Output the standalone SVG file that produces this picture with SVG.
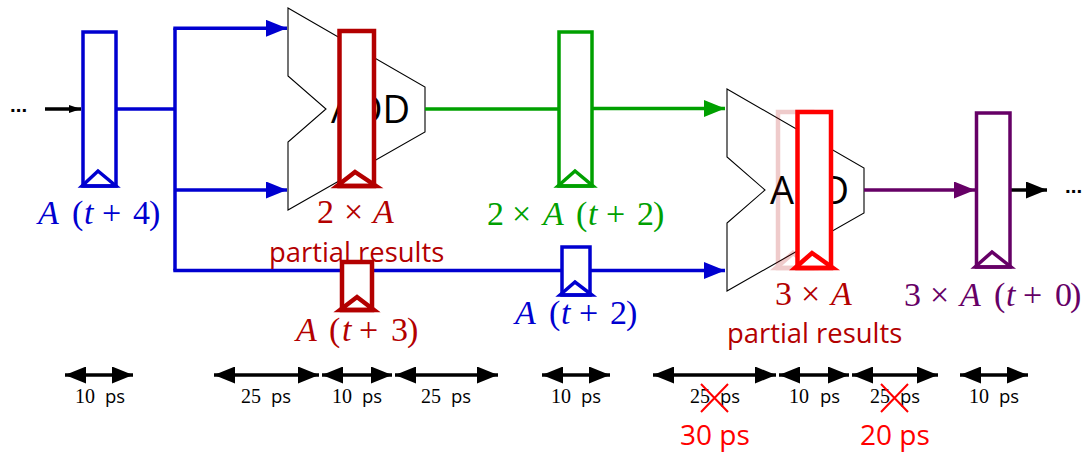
<svg xmlns="http://www.w3.org/2000/svg" width="1084" height="452" viewBox="0 0 1084 452">
<style>
text{font-family:"Liberation Serif","Times New Roman",serif;font-size:34px}
.i{font-style:italic}
.s{font-family:"Open Sans","Noto Sans",sans-serif}
.d{font-family:"Liberation Sans",Arial,sans-serif;font-size:20.500px;font-weight:700}
.t{font-size:20px;fill:#000}
.t .s{font-size:18.500px}
.add{fill:#fff;stroke:#000;stroke-width:1.1}
.blue{stroke:#0000d0;fill:none;stroke-width:3.500}
.green{stroke:#00a000;fill:none;stroke-width:3.500}
.purple{stroke:#660066;fill:none;stroke-width:3.500}
.dred{stroke:#b30000;fill:none;stroke-width:4.500}
.red{stroke:#ff0000;fill:none;stroke-width:4.500}
.k{stroke:#000;fill:none;stroke-width:3.500}
.x{stroke:#ff0000;fill:none;stroke-width:2}
.p{font-size:27.400px}
.q{font-size:28px}
.a{font-size:38px}
</style>
<defs>
<marker id="ab" markerUnits="userSpaceOnUse" markerWidth="22" markerHeight="18" refX="21" refY="8.500" orient="auto"><path d="M0 0L21 8.500L0 17z" fill="#0000d0"/></marker>
<marker id="ag" markerUnits="userSpaceOnUse" markerWidth="22" markerHeight="18" refX="21" refY="8.500" orient="auto"><path d="M0 0L21 8.500L0 17z" fill="#00a000"/></marker>
<marker id="ap" markerUnits="userSpaceOnUse" markerWidth="22" markerHeight="18" refX="21" refY="8.500" orient="auto"><path d="M0 0L21 8.500L0 17z" fill="#660066"/></marker>
<marker id="ak" markerUnits="userSpaceOnUse" markerWidth="22" markerHeight="18" refX="21" refY="8.500" orient="auto"><path d="M0 0L21 8.500L0 17z" fill="#000"/></marker>
<marker id="as" markerUnits="userSpaceOnUse" markerWidth="14" markerHeight="10" refX="12" refY="4" orient="auto"><path d="M0 0L12 4L0 8z" fill="#000"/></marker>
<marker id="te" markerUnits="userSpaceOnUse" markerWidth="22" markerHeight="18" refX="21" refY="8.500" orient="auto"><path d="M0 0L21 8.500L0 17z" fill="#000"/></marker>
<marker id="ts" markerUnits="userSpaceOnUse" markerWidth="22" markerHeight="18" refX="0" refY="8.500" orient="auto"><path d="M21 0L0 8.500L21 17z" fill="#000"/></marker>
</defs>

<g id="adder1"><path class="add" d="M288 8L425 87V132L288 210V142L326 109L288 76Z"/><text class="s a" x="331" y="123">ADD</text></g>
<g id="adder2"><path class="add" d="M727 89L864 168V213L727 291V223L765 190L727 157Z"/><text class="s a" x="770" y="204">ADD</text></g>

<g id="connectors">
<path class="k" d="M45 109H81" marker-end="url(#as)"/>
<path class="blue" d="M116 109H175"/>
<path class="blue" d="M175 28.300V270.500"/>
<path class="blue" d="M173.300 28.300H287" marker-end="url(#ab)"/>
<path class="blue" d="M175 190H287" marker-end="url(#ab)"/>
<path class="blue" d="M173.300 270.500H725" marker-end="url(#ab)"/>
<path class="green" d="M425 109H559"/>
<path class="green" d="M592 108.500H725" marker-end="url(#ag)"/>
<path class="purple" d="M864 190H975" marker-end="url(#ap)"/>
<path class="k" d="M1010 190H1047" marker-end="url(#ak)"/>
</g>

<g id="labels">
<text x="10" y="111.500" class="d">...</text>
<text x="1065" y="193" class="d">...</text>
<text fill="#0000d0"><tspan class="i" x="38" y="224">A</tspan><tspan x="72">(</tspan><tspan class="i" x="84">t</tspan><tspan x="102">+</tspan><tspan x="133">4</tspan><tspan x="149">)</tspan></text>
<text fill="#b30000"><tspan x="317" y="223">2</tspan><tspan x="344">×</tspan><tspan class="i" x="373">A</tspan></text>
<text class="s p" fill="#b30000" x="269" y="262">partial results</text>
<text fill="#00a000"><tspan x="487" y="225">2</tspan><tspan x="512">×</tspan><tspan class="i" x="543">A</tspan><tspan x="576">(</tspan><tspan class="i" x="588">t</tspan><tspan x="606">+</tspan><tspan x="637">2</tspan><tspan x="653">)</tspan></text>
<text fill="#b30000"><tspan class="i" x="296" y="341">A</tspan><tspan x="329">(</tspan><tspan class="i" x="342">t</tspan><tspan x="359">+</tspan><tspan x="391">3</tspan><tspan x="407">)</tspan></text>
<text fill="#0000d0"><tspan class="i" x="515" y="324">A</tspan><tspan x="549">(</tspan><tspan class="i" x="561">t</tspan><tspan x="579">+</tspan><tspan x="610">2</tspan><tspan x="626">)</tspan></text>
<text fill="#b30000"><tspan x="775" y="305">3</tspan><tspan x="801">×</tspan><tspan class="i" x="831">A</tspan></text>
<text class="s p" fill="#b30000" x="727" y="343">partial results</text>
<text fill="#660066"><tspan x="904" y="306">3</tspan><tspan x="930">×</tspan><tspan class="i" x="960">A</tspan><tspan x="994">(</tspan><tspan class="i" x="1006">t</tspan><tspan x="1023">+</tspan><tspan x="1055">0</tspan><tspan x="1070">)</tspan></text>
</g>

<g id="reg1"><rect class="blue" style="fill:#fff" x="83" y="32" width="33" height="154"/><path class="blue" d="M82 186L98 171L116 186Z"/></g>
<g id="reg2"><rect class="dred" style="fill:#fff" x="339.500" y="31" width="34.500" height="155"/><path class="dred" d="M337 186L355 172L376 186Z"/></g>
<g id="reg3"><rect class="green" style="fill:#fff" x="559" y="32" width="33" height="154"/><path class="green" d="M558 186L575 171L593 186Z"/></g>
<g id="reg4"><rect class="dred" style="fill:#fff" x="342" y="262" width="30" height="48"/><path class="dred" d="M340 310L357 297L374 310Z"/></g>
<g id="reg5"><rect class="blue" style="fill:#fff" x="562" y="247" width="28" height="48"/><path class="blue" d="M560 295L575 282L592 295Z"/></g>
<g id="reg6" opacity="0.2"><rect class="dred" x="778" y="112" width="34" height="156"/><path class="dred" d="M776 268L793 253L812 268Z"/></g>
<g id="reg7"><rect class="red" style="fill:#fff" x="797.500" y="112" width="33.500" height="156"/><path class="red" d="M795 268L812 253L833 268Z"/></g>
<g id="reg8"><rect class="purple" style="fill:#fff" x="976.500" y="113" width="33.500" height="154"/><path class="purple" d="M975 267L992 252L1011 267Z"/></g>

<g id="timing">
<path class="k" d="M65 375H133" marker-start="url(#ts)" marker-end="url(#te)"/>
<path class="k" d="M214 375H319" marker-start="url(#ts)" marker-end="url(#te)"/>
<path class="k" d="M322 375H392" marker-start="url(#ts)" marker-end="url(#te)"/>
<path class="k" d="M395 375H498" marker-start="url(#ts)" marker-end="url(#te)"/>
<path class="k" d="M542 375H610" marker-start="url(#ts)" marker-end="url(#te)"/>
<path class="k" d="M653 375H776" marker-start="url(#ts)" marker-end="url(#te)"/>
<path class="k" d="M779 375H849" marker-start="url(#ts)" marker-end="url(#te)"/>
<path class="k" d="M852 375H938" marker-start="url(#ts)" marker-end="url(#te)"/>
<path class="k" d="M960 375H1028" marker-start="url(#ts)" marker-end="url(#te)"/>
<text class="t"><tspan x="75" y="403">10</tspan><tspan class="s" x="105">ps</tspan></text>
<text class="t"><tspan x="241" y="403">25</tspan><tspan class="s" x="271">ps</tspan></text>
<text class="t"><tspan x="332" y="403">10</tspan><tspan class="s" x="362">ps</tspan></text>
<text class="t"><tspan x="421" y="403">25</tspan><tspan class="s" x="451">ps</tspan></text>
<text class="t"><tspan x="551" y="403">10</tspan><tspan class="s" x="581">ps</tspan></text>
<text class="t"><tspan x="690" y="403">25</tspan><tspan class="s" x="720">ps</tspan></text>
<text class="t"><tspan x="789" y="403">10</tspan><tspan class="s" x="820">ps</tspan></text>
<text class="t"><tspan x="870" y="403">25</tspan><tspan class="s" x="900">ps</tspan></text>
<text class="t"><tspan x="969" y="403">10</tspan><tspan class="s" x="999">ps</tspan></text>
<path class="x" d="M701 384L728 412M728 384L701 412"/>
<path class="x" d="M881 384L908 412M908 384L881 412"/>
<text class="s q" fill="#ff0000" x="680" y="445">30 ps</text>
<text class="s q" fill="#ff0000" x="860" y="445">20 ps</text>
</g>
</svg>
